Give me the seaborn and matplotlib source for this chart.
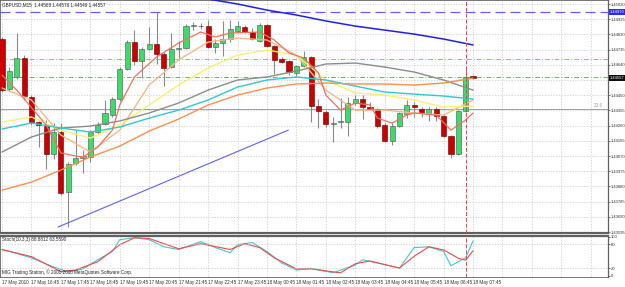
import numpy as np
import pandas as pd
import seaborn as sns
import matplotlib.pyplot as plt
import matplotlib.transforms as mtransforms

# GBPUSD M15 candles, 17 May 15:45 .. 18 May 07:45 (bar index = position)
OPEN = [1.44801, 1.44489, 1.44564, 1.44682, 1.44439, 1.44282, 1.44257, 1.44082, 1.44220, 1.43845,
        1.44026, 1.44057, 1.44064, 1.44220, 1.44270, 1.44326, 1.44426, 1.44614, 1.44782, 1.44664,
        1.44739, 1.44770, 1.44707, 1.44626, 1.44739, 1.44745, 1.44882, 1.44882, 1.44882, 1.44751,
        1.44776, 1.44801, 1.44851, 1.44876, 1.44845, 1.44789, 1.44889, 1.44757, 1.44676, 1.44664,
        1.44589, 1.44632, 1.44689, 1.44382, 1.44345, 1.44270, 1.44282, 1.44282, 1.44401, 1.44426,
        1.44376, 1.44364, 1.44264, 1.44164, 1.44257, 1.44332, 1.44389, 1.44364, 1.44332, 1.44364,
        1.44320, 1.44195, 1.44082, 1.44351, 1.44568]
HIGH = [1.44814, 1.44626, 1.44839, 1.44701, 1.44451, 1.44289, 1.44295, 1.44276, 1.44276, 1.44032,
        1.44232, 1.44107, 1.44232, 1.44282, 1.44420, 1.44439, 1.44626, 1.44795, 1.44857, 1.44751,
        1.44876, 1.44970, 1.44720, 1.44839, 1.44789, 1.44895, 1.44907, 1.44901, 1.44920, 1.44801,
        1.44914, 1.44920, 1.44914, 1.44889, 1.44870, 1.44901, 1.44895, 1.44764, 1.44689, 1.44670,
        1.44639, 1.44726, 1.44695, 1.44426, 1.44357, 1.44314, 1.44432, 1.44439, 1.44451, 1.44451,
        1.44407, 1.44370, 1.44276, 1.44276, 1.44345, 1.44420, 1.44407, 1.44376, 1.44376, 1.44376,
        1.44326, 1.44201, 1.44357, 1.44620, 1.44576]
LOW = [1.44470, 1.44476, 1.44551, 1.44420, 1.44264, 1.44126, 1.43989, 1.44051, 1.43826, 1.43626,
       1.44014, 1.43964, 1.44032, 1.44207, 1.44264, 1.44314, 1.44414, 1.44607, 1.44639, 1.44557,
       1.44732, 1.44645, 1.44507, 1.44620, 1.44670, 1.44739, 1.44857, 1.44864, 1.44745, 1.44714,
       1.44695, 1.44782, 1.44845, 1.44839, 1.44795, 1.44782, 1.44751, 1.44582, 1.44651, 1.44576,
       1.44570, 1.44626, 1.44282, 1.44245, 1.44251, 1.44157, 1.44245, 1.44195, 1.44389, 1.44301,
       1.44357, 1.44245, 1.44157, 1.44139, 1.44251, 1.44307, 1.44314, 1.44314, 1.44289, 1.44289,
       1.44189, 1.44057, 1.44076, 1.44345, 1.44549]
CLOSE = [1.44482, 1.44601, 1.44682, 1.44445, 1.44282, 1.44264, 1.44082, 1.44220, 1.43839, 1.44020,
         1.44057, 1.44070, 1.44220, 1.44264, 1.44339, 1.44426, 1.44614, 1.44782, 1.44664, 1.44739,
         1.44770, 1.44707, 1.44620, 1.44739, 1.44745, 1.44882, 1.44889, 1.44880, 1.44751, 1.44776,
         1.44801, 1.44864, 1.44882, 1.44845, 1.44801, 1.44889, 1.44757, 1.44670, 1.44657, 1.44595,
         1.44632, 1.44689, 1.44382, 1.44351, 1.44270, 1.44276, 1.44289, 1.44401, 1.44426, 1.44376,
         1.44364, 1.44257, 1.44164, 1.44257, 1.44339, 1.44389, 1.44376, 1.44339, 1.44364, 1.44320,
         1.44195, 1.44082, 1.44351, 1.44566, 1.44557]

# fast moving average, read at the bars where it bends
FAST_BARS = [0, 2, 6, 8, 10, 11, 13, 15, 16, 18, 21, 24, 27, 29, 31, 35, 37, 39, 41, 43, 44,
             46, 48, 50, 51, 53, 55, 56, 59, 61, 63, 64]
MA_FAST = [1.44576, 1.44482, 1.44264, 1.44089, 1.44070, 1.44064, 1.44126, 1.44232, 1.44389,
           1.44564, 1.44689, 1.44776, 1.44845, 1.44814, 1.44839, 1.44845, 1.44795, 1.44714,
           1.44682, 1.44589, 1.44451, 1.44357, 1.44401, 1.44389, 1.44307, 1.44276, 1.44326,
           1.44339, 1.44326, 1.44232, 1.44295, 1.44339]

# slower moving averages read every 4 bars
MA_BARS = [0, 4, 8, 12, 16, 20, 24, 28, 32, 36, 40, 44, 48, 52, 56, 60, 64]
MA_SANDY = [1.44495, 1.44420, 1.44201, 1.44095, 1.44232, 1.44514, 1.44670, 1.44782, 1.44807,
            1.44795, 1.44701, 1.44482, 1.44357, 1.44357, 1.44339, 1.44326, 1.44420]
MA_YELLOW = [1.44282, 1.44314, 1.44232, 1.44182, 1.44264, 1.44389, 1.44514, 1.44620, 1.44701,
             1.44732, 1.44701, 1.44545, 1.44464, 1.44451, 1.44420, 1.44376, 1.44382]
MA_GRAY = [1.44095, 1.44189, 1.44245, 1.44257, 1.44289, 1.44339, 1.44401, 1.44482, 1.44545,
           1.44564, 1.44601, 1.44645, 1.44651, 1.44626, 1.44595, 1.44545, 1.44482]
MA_CYAN = [1.44239, 1.44276, 1.44245, 1.44220, 1.44251, 1.44307, 1.44357, 1.44420, 1.44501,
           1.44545, 1.44564, 1.44545, 1.44507, 1.44470, 1.44457, 1.44445, 1.44426]
MA_ORANGE = [1.43857, 1.43907, 1.43982, 1.44064, 1.44132, 1.44226, 1.44301, 1.44389, 1.44451,
             1.44495, 1.44520, 1.44526, 1.44520, 1.44520, 1.44514, 1.44526, 1.44557]
MA_BLUE_BARS = [28, 32, 36, 40, 44, 48, 52, 56, 60, 64]
MA_BLUE = [1.45051, 1.45020, 1.44982, 1.44951, 1.44914, 1.44882, 1.44857, 1.44832, 1.44801, 1.44764]

TREND_BARS = [7.6, 38.9]
TREND_PRICE = [1.43626, 1.44232]

STOCH_K_BARS = [0, 2, 4, 7, 9, 11, 13, 15, 16, 18, 20, 22, 24, 27, 29, 31, 32, 34, 36, 38, 40,
                42, 45, 48, 49, 51, 54, 56, 58, 60, 61, 63, 64]
STOCH_K = [67, 57, 46, 23, 10, 18, 41, 62, 92, 97, 92, 74, 67, 87, 72, 59, 79, 85, 62, 33, 15,
           19, 8, 28, 41, 33, 20, 72, 74, 62, 26, 46, 89]
STOCH_D_BARS = [0, 2, 4, 6, 8, 10, 13, 16, 18, 20, 24, 27, 31, 33, 35, 37, 40, 42, 46, 48, 50,
                54, 56, 58, 60, 62, 63, 64]
STOCH_D = [67, 58, 49, 30, 11, 15, 36, 79, 97, 95, 69, 82, 67, 82, 72, 46, 18, 18, 8, 31, 38,
           20, 50, 74, 66, 45, 40, 64]

TIME_LABELS = ["17 May 2010", "17 May 16:45", "17 May 17:45", "17 May 18:45", "17 May 19:45",
               "17 May 20:45", "17 May 21:45", "17 May 22:45", "17 May 23:45", "18 May 00:45",
               "18 May 01:45", "18 May 02:45", "18 May 03:45", "18 May 04:45", "18 May 05:45",
               "18 May 06:45", "18 May 07:45"]
PRICE_TICKS = [1.43595, 1.43690, 1.43785, 1.43880, 1.43975, 1.44070, 1.44165, 1.44260,
               1.44355, 1.44450, 1.44545, 1.44640, 1.44735, 1.44830, 1.44925, 1.45020]

LEVEL_BLUE = 1.44970
LEVEL_ORANGE = 1.44676
LEVEL_GREEN = 1.44564
LEVEL_FIB = 1.44364
BID = 1.44557


def main():
    sns.set_theme(style="white")
    plt.rcParams["font.family"] = ["Liberation Sans", "DejaVu Sans"]
    fs = 3.3
    fs_axis = 2.95

    fig = plt.figure(figsize=(6.25, 2.87), dpi=100)
    ax = fig.add_axes([0.0, 54 / 287, 608 / 625, 233 / 287])
    ax2 = fig.add_axes([0.0, 10 / 287, 608 / 625, 41.5 / 287])

    px = 7.36
    xlim = (-2 / px, 606 / px)
    grid_kw = dict(color="#c8c8c8", linestyle=(0, (2, 2)), linewidth=0.5)

    # candles
    df = pd.DataFrame({"open": OPEN, "high": HIGH, "low": LOW, "close": CLOSE})
    df["bar"] = np.arange(len(df))
    up = df["close"] >= df["open"]
    ax.vlines(df["bar"], df["low"], df["high"], color="#8a8a8a", linewidth=0.8, zorder=3)
    body = (df["close"] - df["open"]).abs().clip(lower=0.00003)
    ax.bar(df["bar"][up], body[up], bottom=df["open"][up], width=0.7,
           color="#3ddc6a", edgecolor="#505050", linewidth=0.4, zorder=4)
    ax.bar(df["bar"][~up], body[~up], bottom=df["close"][~up], width=0.7,
           color="#cc0000", edgecolor="#5a0000", linewidth=0.4, zorder=4)

    # moving averages
    ma = pd.DataFrame({"bar": MA_BARS, "sandy": MA_SANDY, "yellow": MA_YELLOW,
                       "gray": MA_GRAY, "cyan": MA_CYAN, "orange": MA_ORANGE})
    ma_colors = {"sandy": "#f8b888", "yellow": "#f8f070",
                 "gray": "#8c8c8c", "cyan": "#30c8d0", "orange": "#f89050"}
    for name, col in ma_colors.items():
        sns.lineplot(data=ma, x="bar", y=name, ax=ax, color=col, linewidth=1.0, zorder=5)
    fast = pd.DataFrame({"bar": FAST_BARS, "v": MA_FAST})
    sns.lineplot(data=fast, x="bar", y="v", ax=ax, color="#f07060", linewidth=0.9, zorder=5)
    blue = pd.DataFrame({"bar": MA_BLUE_BARS, "v": MA_BLUE})
    sns.lineplot(data=blue, x="bar", y="v", ax=ax, color="#2020e0", linewidth=1.1, zorder=5)
    sns.lineplot(x=TREND_BARS, y=TREND_PRICE, ax=ax, color="#6060f0", linewidth=0.8, zorder=5)

    # horizontal levels
    ax.axhline(LEVEL_BLUE, color="#6060ff", linewidth=0.9, linestyle=(0, (8, 4)), zorder=2)
    ax.axhline(LEVEL_ORANGE, color="#f09070", linewidth=0.7, linestyle=(0, (5, 2, 1, 2)), zorder=2)
    ax.axhline(LEVEL_GREEN, color="#70b070", linewidth=0.7, linestyle=(0, (5, 2, 1, 2)), zorder=2)
    ax.axhline(LEVEL_FIB, color="#a0a0a0", linewidth=0.7, zorder=2)
    ax.text(81.6, LEVEL_FIB + 0.00004, "23.6", fontsize=fs, color="#a0a0a0", ha="right", va="bottom")
    for a in (ax, ax2):
        a.axvline(63.1, color="#f04040", linewidth=0.7, linestyle=(0, (4, 2)), zorder=6)

    ax.set_xlim(*xlim)
    ax.set_ylim(1.43589, 1.45045)
    ax.set_xticks(np.arange(0, 84, 4))
    ax.set_xticklabels([])
    ax.set_yticks(PRICE_TICKS)
    # 1.44545 sits under the bid box
    ax.set_yticklabels(["" if abs(v - BID) < 0.0003 else f"{v:.5f}" for v in PRICE_TICKS],
                       fontsize=fs_axis)
    ax.yaxis.tick_right()
    ax.tick_params(axis="y", length=1.5, width=0.5, pad=0.4, colors="#303030")
    ax.tick_params(axis="x", length=0)
    ax.grid(True, **grid_kw)
    ax.set(xlabel="", ylabel="")

    trans = mtransforms.blended_transform_factory(ax.transAxes, ax.transData)
    ax.text(1.003, LEVEL_BLUE, "1.44970", transform=trans, fontsize=fs_axis, color="white",
            va="center", ha="left", bbox=dict(facecolor="#2a2aff", edgecolor="none", pad=0.5))
    ax.text(1.003, BID, f"{BID:.5f}", transform=trans, fontsize=fs_axis, color="white",
            va="center", ha="left", bbox=dict(facecolor="#101010", edgecolor="none", pad=0.5))
    ax.text(0.004, 0.992, "GBPUSD,M15  1.44568 1.44576 1.44549 1.44557", transform=ax.transAxes,
            fontsize=fs, va="top", ha="left", color="#202020")

    # stochastic
    k = pd.DataFrame({"bar": STOCH_K_BARS, "v": STOCH_K})
    d = pd.DataFrame({"bar": STOCH_D_BARS, "v": STOCH_D})
    sns.lineplot(data=k, x="bar", y="v", ax=ax2, color="#40c8c8", linewidth=0.8)
    sns.lineplot(data=d, x="bar", y="v", ax=ax2, color="#f04848", linewidth=0.8)
    ax2.set_xlim(*xlim)
    ax2.set_ylim(-2.6, 102.6)
    ax2.set_yticks([0, 20, 80, 100])
    ax2.set_yticklabels(["0", "20", "80", "100"], fontsize=fs_axis)
    ax2.yaxis.tick_right()
    ax2.tick_params(axis="y", length=1.5, width=0.5, pad=0.4, colors="#303030")
    ax2.set_xticks(np.arange(0, 84, 4))
    ax2.set_xticklabels(TIME_LABELS + [""] * 4, fontsize=fs, ha="left")
    ax2.tick_params(axis="x", length=2, width=0.5, pad=0.5, colors="#303030")
    ax2.xaxis.grid(True, **grid_kw)
    ax2.axhline(20, **grid_kw)
    ax2.axhline(80, **grid_kw)
    ax2.set(xlabel="", ylabel="")
    ax2.text(0.004, 0.96, "Stoch(10,3,3) 88.8812 63.5590", transform=ax2.transAxes,
             fontsize=fs, va="top", ha="left", color="#202020")
    ax2.text(0.004, 0.05, "MIG Trading Station, \u00a9 2001-2010 MetaQuotes Software Corp.",
             transform=ax2.transAxes, fontsize=fs, va="bottom", ha="left", color="#202020")

    for a in (ax, ax2):
        for s in a.spines.values():
            s.set_color("#606060")
            s.set_linewidth(0.6)
        a.spines["right"].set_linewidth(0.9)
    ax.spines["bottom"].set_linewidth(1.6)
    ax2.spines["top"].set_linewidth(1.6)

    fig.savefig("out.png", dpi=100, facecolor="white")


if __name__ == "__main__":
    main()
